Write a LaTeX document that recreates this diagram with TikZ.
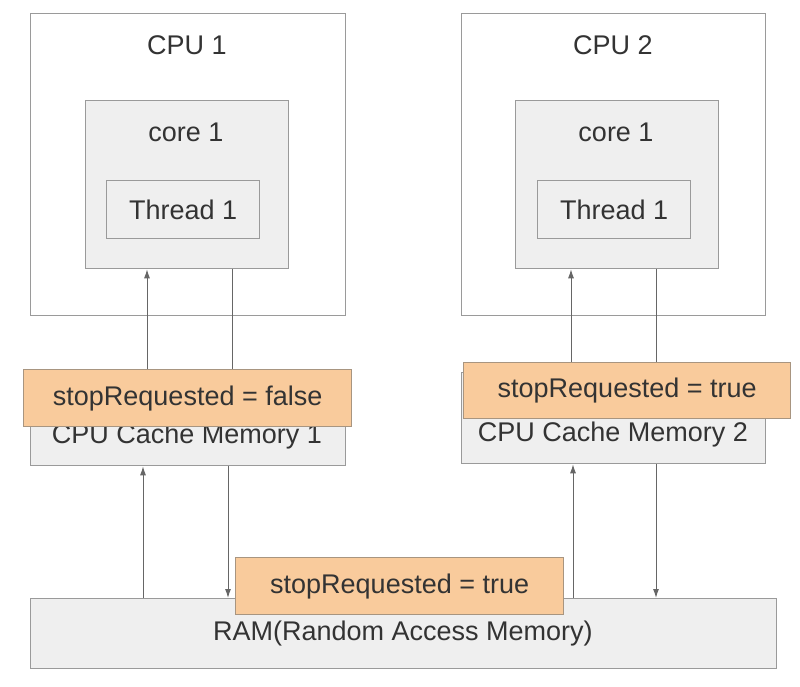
\documentclass[tikz,border=0pt]{standalone}
\usepackage{fontspec}
\setmainfont{Liberation Sans}
\usetikzlibrary{arrows.meta,positioning}
\definecolor{BoxGray}{HTML}{EFEFEF}
\definecolor{EdgeGray}{HTML}{9A9A9A}
\definecolor{LineGray}{HTML}{666666}
\definecolor{FlagOrange}{HTML}{F9CB9C}
\definecolor{FlagEdge}{HTML}{A89580}
\definecolor{TextGray}{HTML}{333333}

\begin{document}
\begin{tikzpicture}[x=1pt,y=-1pt,
  box/.style={draw=EdgeGray,line width=1.3pt,fill=BoxGray,inner sep=0pt,anchor=north west},
  flag/.style={box,draw=FlagEdge,fill=FlagOrange},
  lbl/.style={text=TextGray,font=\fontsize{27}{32}\selectfont,inner sep=0pt},
  link/.style={draw=LineGray,line width=1pt},
  arr/.style={link,-{Latex[length=9pt,width=6pt]}}]
  \fill[white] (0,0) rectangle (800,687);
  \useasboundingbox (0,0) rectangle (800,687);
  % processors
  \node[box,fill=white,minimum width=315,minimum height=302] (cpuA) at (30,13) {};
  \node[box,fill=white,minimum width=304,minimum height=302] (cpuB) at (461,13) {};
  \node[lbl] at (187,45) {CPU 1};
  \node[lbl] at (613,45) {CPU 2};
  \node[box,minimum width=203,minimum height=168] (coreA) at (85,100) {};
  \node[box,minimum width=203,minimum height=168] (coreB) at (515,100) {};
  \node[lbl] at (186,132) {core 1};
  \node[lbl] at (616,132) {core 1};
  \node[box,minimum width=153,minimum height=58] (thrA) at (106,180) {};
  \node[box,minimum width=153,minimum height=58] (thrB) at (537,180) {};
  \node[lbl] at (thrA.center) {Thread 1};
  \node[lbl] at (thrB.center) {Thread 1};
  % caches and RAM
  \node[box,minimum width=315,minimum height=93] (cacheA) at (30,372) {};
  \node[box,minimum width=304,minimum height=91] (cacheB) at (461,372) {};
  \node[lbl] at (187,437) {CPU Cache Memory 1};
  \node[lbl] at (613,435) {CPU Cache Memory 2};
  \node[box,minimum width=746,minimum height=70] (ram) at (30,598) {};
  \node[lbl] at (403,634) {RAM(Random Access Memory)};
  % connectors
  \coordinate (ua) at (147,0); \coordinate (da) at (232,0);
  \coordinate (ub) at (571,0); \coordinate (db) at (656,0);
  \coordinate (ra) at (143,0); \coordinate (sa) at (228,0);
  \coordinate (rb) at (573,0); \coordinate (sb) at (656,0);
  \draw[arr] (cacheA.north -| ua) -- (coreA.south -| ua);
  \draw[link] (coreA.south -| da) -- (cacheA.north -| da);
  \draw[arr] (cacheB.north -| ub) -- (coreB.south -| ub);
  \draw[link] (coreB.south -| db) -- (cacheB.north -| db);
  \draw[arr] (ram.north -| ra) -- (cacheA.south -| ra);
  \draw[arr] (cacheA.south -| sa) -- (ram.north -| sa);
  \draw[arr] (ram.north -| rb) -- (cacheB.south -| rb);
  \draw[arr] (cacheB.south -| sb) -- (ram.north -| sb);
  % flag values
  \node[flag,minimum width=328,minimum height=57] (flagA) at (23,369) {};
  \node[flag,minimum width=327,minimum height=56] (flagB) at (463,362) {};
  \node[flag,minimum width=328,minimum height=57] (flagR) at (235,557) {};
  \node[lbl] at (flagA.center) {stopRequested = false};
  \node[lbl] at (flagB.center) {stopRequested = true};
  \node[lbl] at (flagR.center) {stopRequested = true};
\end{tikzpicture}
\end{document}
